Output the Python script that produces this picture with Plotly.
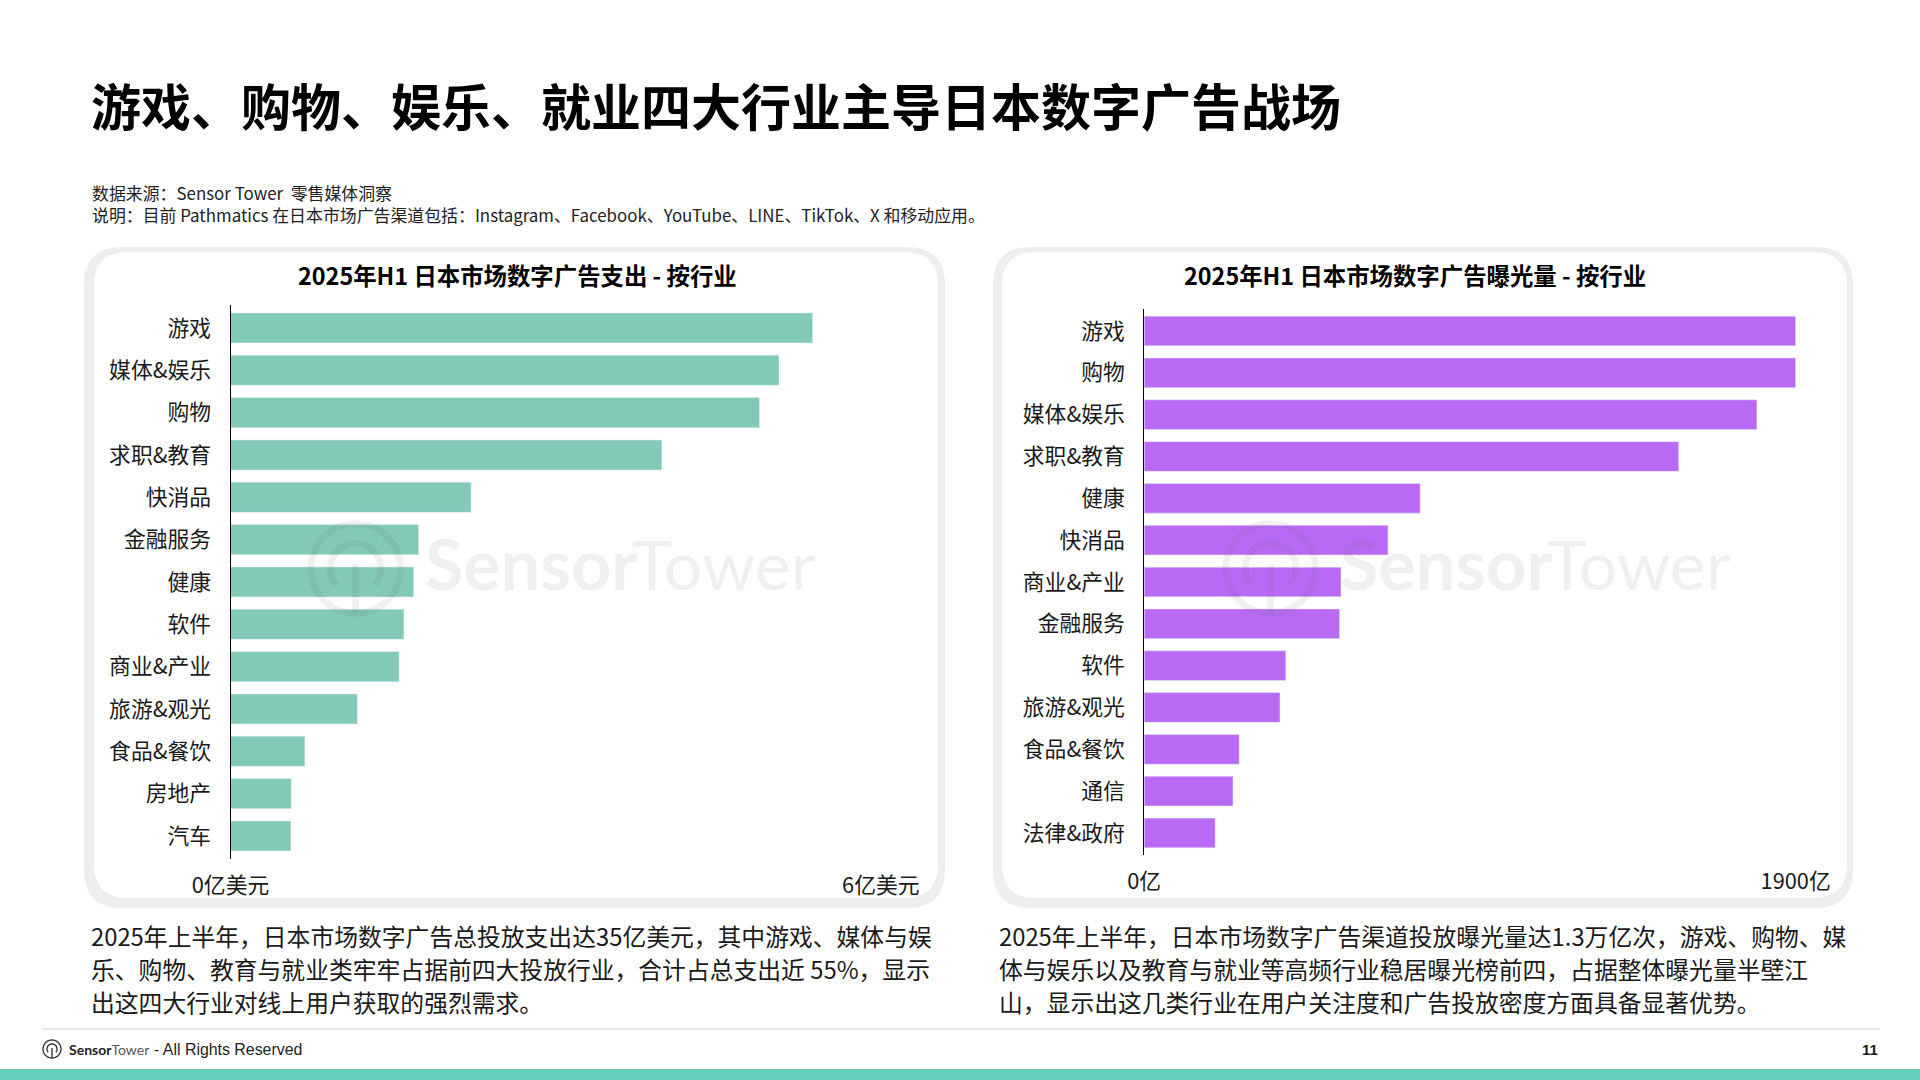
import numpy as np
import plotly.graph_objects as go

CJK = "Noto Sans CJK SC"
W, H = 1920, 1080

spend_cats = ["游戏", "媒体&娱乐", "购物", "求职&教育", "快消品", "金融服务", "健康", "软件",
              "商业&产业", "旅游&观光", "食品&餐饮", "房地产", "汽车"]
spend_vals = [5.37, 5.06, 4.88, 3.98, 2.22, 1.735, 1.69, 1.60, 1.556, 1.17, 0.686, 0.56, 0.556]

reach_cats = ["游戏", "购物", "媒体&娱乐", "求职&教育", "健康", "快消品", "商业&产业", "金融服务",
              "软件", "旅游&观光", "食品&餐饮", "通信", "法律&政府"]
reach_vals = [1900, 1900, 1787, 1559, 805, 711, 574, 570, 413, 396, 277, 259, 207]

spend_ticks = [0, 6]
spend_ticktext = ["0亿美元", "6亿美元"]
reach_ticks = [0, 1900]
reach_ticktext = ["0亿", "1900亿"]

title_text = "游戏、购物、娱乐、就业四大行业主导日本数字广告战场"
notes = ["数据来源：Sensor Tower  零售媒体洞察",
         "说明：目前 Pathmatics 在日本市场广告渠道包括：Instagram、Facebook、YouTube、LINE、TikTok、X 和移动应用。"]
left_lines = ["2025年上半年，日本市场数字广告总投放支出达35亿美元，其中游戏、媒体与娱",
              "乐、购物、教育与就业类牢牢占据前四大投放行业，合计占总支出近 55%，显示",
              "出这四大行业对线上用户获取的强烈需求。"]
right_lines = ["2025年上半年，日本市场数字广告渠道投放曝光量达1.3万亿次，游戏、购物、媒",
               "体与娱乐以及教育与就业等高频行业稳居曝光榜前四，占据整体曝光量半壁江",
               "山，显示出这几类行业在用户关注度和广告投放密度方面具备显著优势。"]

GREEN = "#82C9B8"
PURPLE = "#B86AF5"
TEAL = "#62CFB8"
CARD = "#EEEEEE"
WM = "rgba(110,110,110,0.10)"


def fx(px):
    return px / W


def fy(py):
    return 1 - py / H


def round_rect(x0, y0, x1, y1, r):
    a, b, c, d = fx(x0), fy(y0), fx(x1), fy(y1)
    rx, ry = r / W, r / H
    return (f"M{a + rx},{b} L{c - rx},{b} Q{c},{b} {c},{b - ry} L{c},{d + ry} Q{c},{d} {c - rx},{d} "
            f"L{a + rx},{d} Q{a},{d} {a},{d + ry} L{a},{b - ry} Q{a},{b} {a + rx},{b} Z")


def arc(cx, cy, r, start, end):
    t = np.radians(np.linspace(start, end, 40))
    pts = [f"{fx(cx + r * np.cos(v))},{fy(cy - r * np.sin(v))}" for v in t]
    return "M" + " L".join(pts)


def logo(cx, cy, r, color):
    lw = r * 0.15
    out = []
    for path in [arc(cx, cy, r, 0, 360),
                 arc(cx, cy, r * 0.56, -40, 220),
                 f"M{fx(cx)},{fy(cy - r * 0.1)} L{fx(cx)},{fy(cy + r)}"]:
        out.append(dict(type="path", path=path, xref="paper", yref="paper", layer="above",
                        line=dict(color=color, width=lw)))
    return out


def text(s, x, y, size, color="#1a1a1a", anchor="left", family=CJK):
    return dict(text=s, x=fx(x), y=fy(y), xref="paper", yref="paper", xanchor=anchor, yanchor="middle",
                showarrow=False, font=dict(family=family, size=size, color=color))


fig = go.Figure()
fig.add_bar(x=spend_vals, y=spend_cats, orientation="h", marker_color=GREEN, xaxis="x", yaxis="y")
fig.add_bar(x=reach_vals, y=reach_cats, orientation="h", marker_color=PURPLE, xaxis="x2", yaxis="y2")


def xaxis_style(x0, x1, ticks, ticktext):
    return dict(domain=[fx(x0), fx(x1)], range=[0, ticks[1] * 1.001], tickvals=ticks, ticktext=ticktext,
                showgrid=True, gridcolor="#BDBDBD", griddash="dot", gridwidth=1, zeroline=False,
                ticks="outside", ticklen=7, tickcolor="rgba(0,0,0,0)", automargin=False,
                tickfont=dict(family=CJK, size=21.8, color="#1a1a1a"), fixedrange=True)


def yaxis_style(y0, y1, rng):
    return dict(domain=[fy(y1), fy(y0)], range=rng, type="category", showline=True, linecolor="#000000",
                linewidth=1, showgrid=False, zeroline=False, ticks="outside", ticklen=14, automargin=False,
                tickcolor="rgba(0,0,0,0)", tickfont=dict(family=CJK, size=21.8, color="#1a1a1a"),
                fixedrange=True)


shapes = [
    dict(type="path", path=round_rect(84, 247, 945, 908, 38), xref="paper", yref="paper", layer="below",
         fillcolor=CARD, line_width=0),
    dict(type="path", path=round_rect(94, 252, 938, 898, 34), xref="paper", yref="paper", layer="below",
         fillcolor="white", line_width=0),
    dict(type="path", path=round_rect(993, 247, 1853, 908, 38), xref="paper", yref="paper", layer="below",
         fillcolor=CARD, line_width=0),
    dict(type="path", path=round_rect(1002, 252, 1847, 898, 34), xref="paper", yref="paper", layer="below",
         fillcolor="white", line_width=0),
    dict(type="rect", x0=fx(42), x1=fx(1880), y0=fy(1030), y1=fy(1028), xref="paper", yref="paper",
         fillcolor="#E9E9E9", line_width=0, layer="below"),
    dict(type="rect", x0=0, x1=1, y0=fy(1080), y1=fy(1069), xref="paper", yref="paper",
         fillcolor=TEAL, line_width=0, layer="below"),
]
shapes += logo(355.6, 568.5, 45, WM)
shapes += logo(1270.5, 568.5, 45, WM)
shapes += logo(52, 1049, 9, "#333333")

annotations = [
    text(f"<b>{title_text}</b>", 89, 104.5, 50, "#000000"),
    text(notes[0], 90, 192.5, 16.9, "#222222"),
    text(notes[1], 90, 214.5, 16.9, "#222222"),
    text("<b>2025年H1 日本市场数字广告支出 - 按行业</b>", 517, 275, 23.4, "#000000", "center"),
    text("<b>2025年H1 日本市场数字广告曝光量 - 按行业</b>", 1415, 275, 23.4, "#000000", "center"),
    text("<b>Sensor</b>", 423, 563, 70, WM, family="Lato"),
    text("Tower", 630, 563, 68, WM, family="Lato"),
    text("<b>Sensor</b>", 1338, 563, 70, WM, family="Lato"),
    text("Tower", 1545, 563, 68, WM, family="Lato"),
    text('<b>Sensor</b><span style="color:#555555">Tower</span>', 67, 1049, 14, "#222222", family="Lato"),
    text("- All Rights Reserved", 152, 1049, 15.9, "#222222", family="Liberation Sans"),
    text("<b>11</b>", 1880, 1049, 15, "#1a1a1a", "right", family="Liberation Sans"),
]
for i, line in enumerate(left_lines):
    annotations.append(text(line, 88.5, 935 + i * 33, 23.8))
for i, line in enumerate(right_lines):
    annotations.append(text(line, 996.5, 935 + i * 33, 23.8))

fig.update_layout(
    width=W,
    height=H,
    margin=dict(l=0, r=0, t=0, b=0, autoexpand=False),
    paper_bgcolor="white",
    plot_bgcolor="rgba(0,0,0,0)",
    showlegend=False,
    bargap=0.29,
    xaxis=dict(anchor="y", **xaxis_style(230.5, 881.5, spend_ticks, spend_ticktext)),
    yaxis=dict(anchor="x", **yaxis_style(305, 859, [12.544, -0.543])),
    xaxis2=dict(anchor="y2", **xaxis_style(1144.2, 1796.3, reach_ticks, reach_ticktext)),
    yaxis2=dict(anchor="x2", **yaxis_style(309, 855, [12.527, -0.526])),
    shapes=shapes,
    annotations=annotations,
)

fig.write_html("out.html", config={"displayModeBar": False}, post_script="document.body.style.margin='0';")
